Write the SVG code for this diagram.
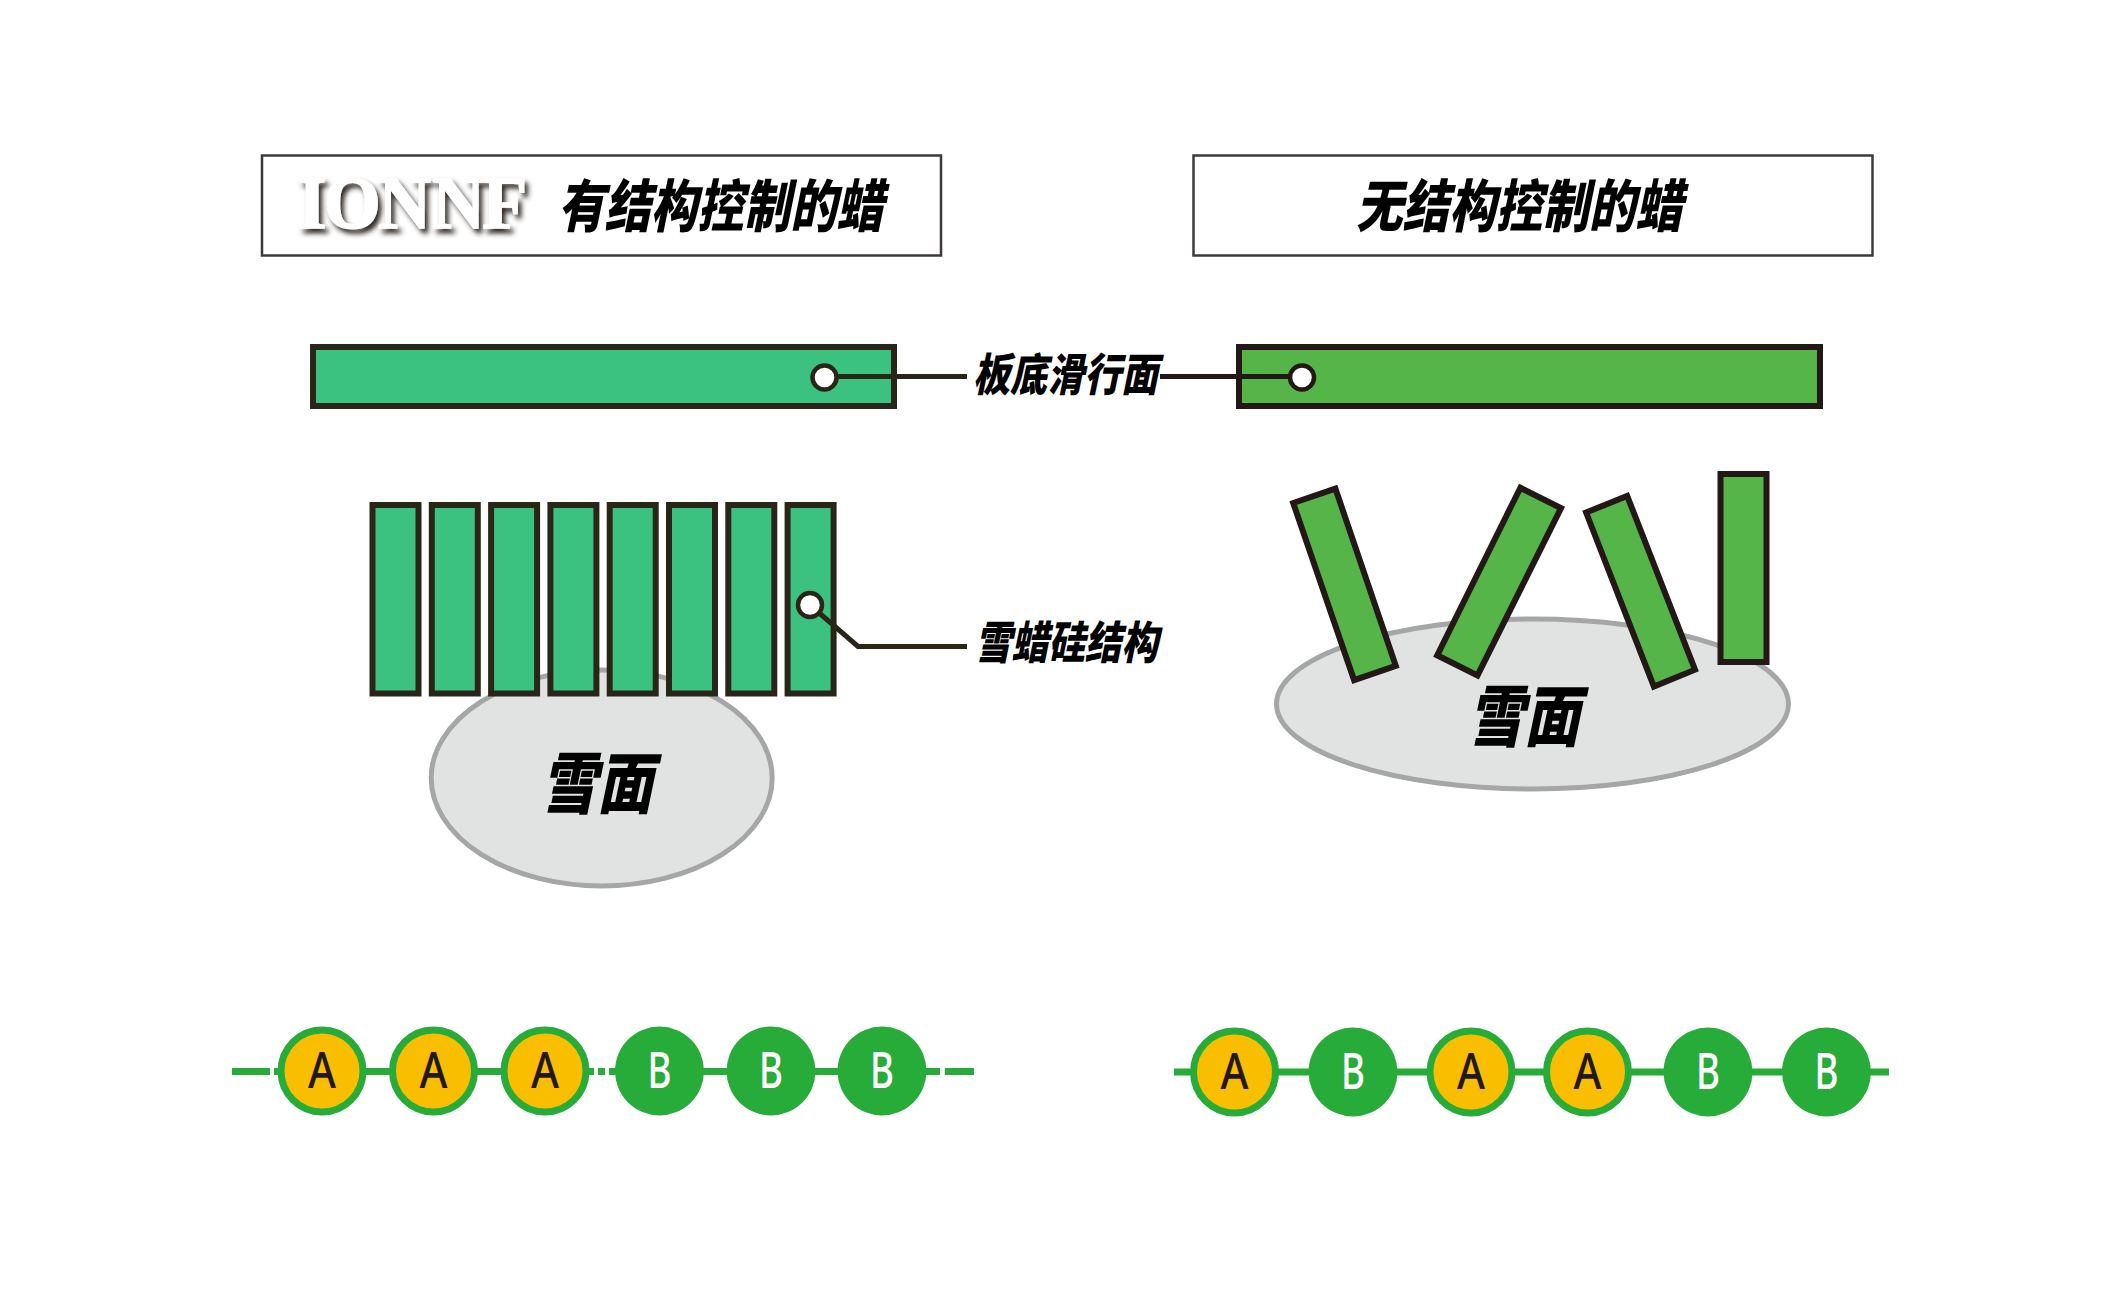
<svg xmlns="http://www.w3.org/2000/svg" width="2116" height="1307" viewBox="0 0 2116 1307">
<style>
.box{fill:#fff;stroke:#3e3a39;stroke-width:2.5}
.cjk{font-family:"Noto Sans CJK SC","Noto Sans",sans-serif;font-weight:900;font-style:italic;fill:#000}
.t{font-size:57px}.l{font-size:45px}.s{font-size:67px}
.g1{fill:#3cc280;stroke:#2a2617;stroke-width:6}
.g2{fill:#56b549;stroke:#231815;stroke-width:6}
.snow{fill:#e1e3e2;stroke:#a5a7a6;stroke-width:5}
.dot1{fill:#fff;stroke:#2a2617;stroke-width:4.5}
.dot2{fill:#fff;stroke:#231815;stroke-width:4.5}
.lead1{fill:none;stroke:#2a2617;stroke-width:5}
.lead2{fill:none;stroke:#231815;stroke-width:5}
.chain{fill:none;stroke:#27ac39;stroke-width:7}
.a{fill:#fabe00;stroke:#27ac39;stroke-width:7}
.b{fill:#27ac39}
.la,.lb{font-family:"Noto Sans","Open Sans",sans-serif;font-weight:500;font-size:50px;text-anchor:middle}
.la{fill:#231815}.lb{fill:#fff}
.logo{font-family:"Liberation Serif",serif;font-weight:700;font-size:73px;fill:#fff;stroke:#fff;stroke-width:1.500;filter:url(#sh)}
</style>
<defs>
<filter id="sh" x="-10%" y="-20%" width="120%" height="150%">
<feDropShadow dx="3.500" dy="4.500" stdDeviation="2.400" flood-color="#2e2624" flood-opacity="1"/>
</filter>
</defs>

<g id="title-left">
<rect class="box" x="262" y="155.5" width="679" height="100"/>
<text class="logo" x="298" y="228" textLength="229" lengthAdjust="spacing" word-spacing="-12">ION NF</text>
<text class="cjk t" x="558" y="227" textLength="325" lengthAdjust="spacingAndGlyphs">有结构控制的蜡</text>
</g>
<g id="title-right">
<rect class="box" x="1193.5" y="155.5" width="679" height="100"/>
<text class="cjk t" x="1356" y="227" textLength="326" lengthAdjust="spacingAndGlyphs">无结构控制的蜡</text>
</g>

<g id="base-left"><rect class="g1" x="313" y="347" width="581" height="59"/></g>
<g id="base-right"><rect class="g2" x="1239" y="347" width="581" height="59"/></g>

<g id="snow-left">
<ellipse class="snow" cx="601.7" cy="778" rx="170.5" ry="108"/>
<text class="cjk s" x="541" y="808" textLength="112" lengthAdjust="spacingAndGlyphs">雪面</text>
</g>
<g id="snow-right">
<ellipse class="snow" cx="1532.5" cy="704" rx="256" ry="85"/>
<text class="cjk s" x="1468" y="741" textLength="112" lengthAdjust="spacingAndGlyphs">雪面</text>
</g>

<g id="wax-left">
<rect class="g1" x="372.5" y="505" width="46" height="188.500"/>
<rect class="g1" x="431.8" y="505" width="46" height="188.500"/>
<rect class="g1" x="491.1" y="505" width="46" height="188.500"/>
<rect class="g1" x="550.4" y="505" width="46" height="188.500"/>
<rect class="g1" x="609.7" y="505" width="46" height="188.500"/>
<rect class="g1" x="669" y="505" width="46" height="188.500"/>
<rect class="g1" x="728.3" y="505" width="46" height="188.500"/>
<rect class="g1" x="787.6" y="505" width="46" height="188.500"/>
</g>
<g id="wax-right">
<polygon class="g2" points="1293.2,503 1335.4,488.6 1395.8,665.8 1354.1,680.2"/>
<polygon class="g2" points="1520.4,487.7 1561,508.2 1477.5,675.4 1437.2,655.3"/>
<polygon class="g2" points="1586.1,512.5 1627.2,495.9 1695,669.7 1653.9,686.5"/>
<rect class="g2" x="1720.5" y="474" width="46" height="188"/>
</g>

<g id="labels">
<text class="cjk l" x="973" y="391" textLength="185" lengthAdjust="spacingAndGlyphs">板底滑行面</text>
<text class="cjk l" x="975" y="659" textLength="183" lengthAdjust="spacingAndGlyphs">雪蜡硅结构</text>
</g>

<g id="connectors">
<path class="lead1" d="M824 376.500H967"/>
<path class="lead2" d="M1160 376.500H1302"/>
<path class="lead1" d="M810 605L858 646.500H967"/>
<circle class="dot1" cx="824.500" cy="377.500" r="12"/>
<circle class="dot2" cx="1302" cy="377.500" r="12"/>
<circle class="dot1" cx="810" cy="605" r="12"/>
<path class="chain" d="M232 1071.500H270M274 1071.500H278H589M589 1071.500H594M598 1071.500H605M609 1071.500H926M926 1071.500H940M945 1071.500H974"/>
<path class="chain" d="M1174 1072H1889"/>
</g>

<g id="chain-left">
<g id="l1"><circle class="a" cx="322" cy="1071" r="41"/><text class="la" x="322" y="1088" textLength="28" lengthAdjust="spacingAndGlyphs">A</text></g>
<g id="l2"><circle class="a" cx="433.500" cy="1071" r="41"/><text class="la" x="433.500" y="1088" textLength="28" lengthAdjust="spacingAndGlyphs">A</text></g>
<g id="l3"><circle class="a" cx="545" cy="1071" r="41"/><text class="la" x="545" y="1088" textLength="28" lengthAdjust="spacingAndGlyphs">A</text></g>
<g id="l4"><circle class="b" cx="659.500" cy="1071" r="44.500"/><text class="lb" x="659.500" y="1088" textLength="24" lengthAdjust="spacingAndGlyphs">B</text></g>
<g id="l5"><circle class="b" cx="771" cy="1071" r="44.500"/><text class="lb" x="771" y="1088" textLength="24" lengthAdjust="spacingAndGlyphs">B</text></g>
<g id="l6"><circle class="b" cx="882" cy="1071" r="44.500"/><text class="lb" x="882" y="1088" textLength="24" lengthAdjust="spacingAndGlyphs">B</text></g>
</g>
<g id="chain-right">
<g id="r1"><circle class="a" cx="1234.500" cy="1072" r="41"/><text class="la" x="1234.500" y="1089" textLength="28" lengthAdjust="spacingAndGlyphs">A</text></g>
<g id="r2"><circle class="b" cx="1353" cy="1072" r="44.500"/><text class="lb" x="1353" y="1089" textLength="24" lengthAdjust="spacingAndGlyphs">B</text></g>
<g id="r3"><circle class="a" cx="1471" cy="1072" r="41"/><text class="la" x="1471" y="1089" textLength="28" lengthAdjust="spacingAndGlyphs">A</text></g>
<g id="r4"><circle class="a" cx="1587.500" cy="1072" r="41"/><text class="la" x="1587.500" y="1089" textLength="28" lengthAdjust="spacingAndGlyphs">A</text></g>
<g id="r5"><circle class="b" cx="1708" cy="1072" r="44.500"/><text class="lb" x="1708" y="1089" textLength="24" lengthAdjust="spacingAndGlyphs">B</text></g>
<g id="r6"><circle class="b" cx="1826.500" cy="1072" r="44.500"/><text class="lb" x="1826.500" y="1089" textLength="24" lengthAdjust="spacingAndGlyphs">B</text></g>
</g>
</svg>
